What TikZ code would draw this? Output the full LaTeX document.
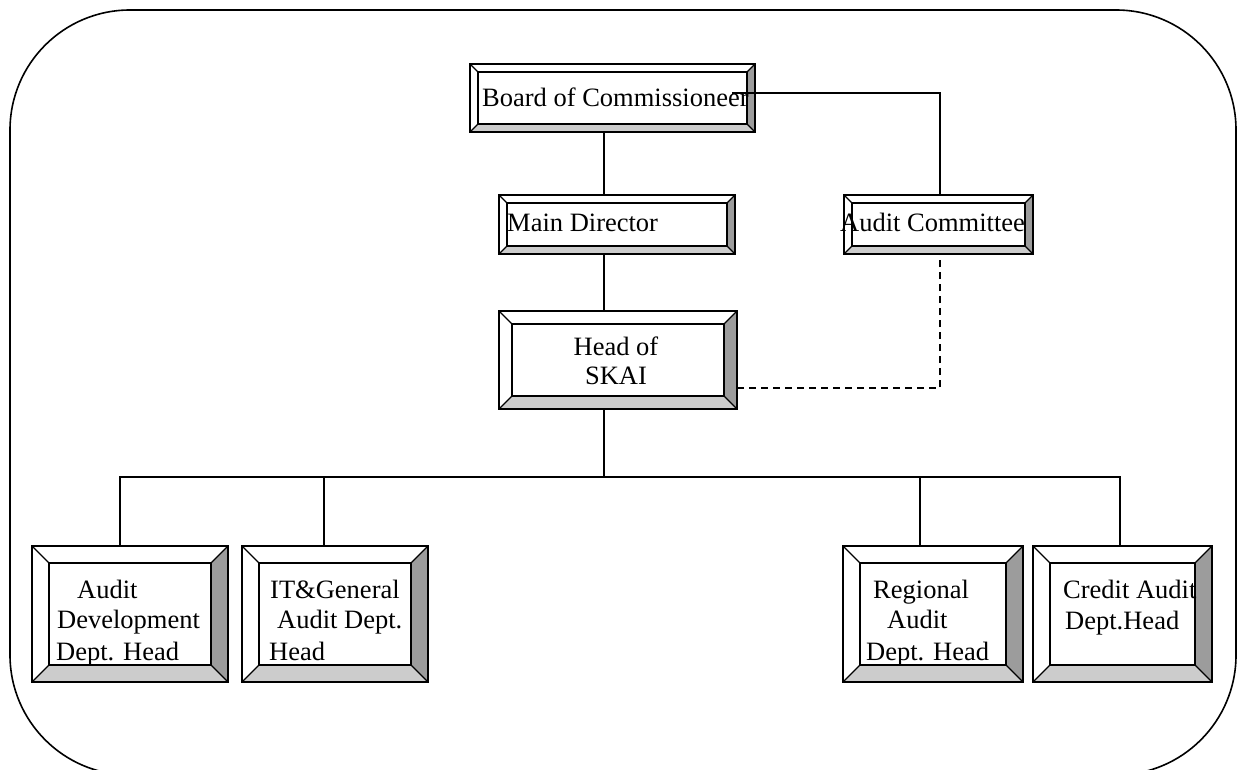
\documentclass[tikz,border=0pt]{standalone}
\usepackage{fontspec}
\setmainfont{Liberation Serif}
\usetikzlibrary{calc}

\definecolor{bevdark}{HTML}{9C9C9C}
\definecolor{bevlight}{HTML}{CCCCCC}

\tikzset{
  bbox/.style={rectangle, inner sep=0pt, outer sep=0pt},
  lbl/.style={inner sep=0pt, anchor=base west, font=\fontsize{26.5}{30}\selectfont},
  lblc/.style={inner sep=0pt, anchor=base, font=\fontsize{26.5}{30}\selectfont},
  conn/.style={line width=1.6pt, line cap=rect},
  dconn/.style={line width=1.6pt, dash pattern=on 7pt off 5pt},
}

% beveled frame drawn around a named node: #1 = node, #2 = bevel depth
\newcommand\bevelize[2]{%
  \coordinate (o1) at (#1.north west);
  \coordinate (o2) at (#1.north east);
  \coordinate (o3) at (#1.south east);
  \coordinate (o4) at (#1.south west);
  \coordinate (i1) at ($(o1)+(#2,#2)$);
  \coordinate (i2) at ($(o2)+(-#2,#2)$);
  \coordinate (i3) at ($(o3)+(-#2,-#2)$);
  \coordinate (i4) at ($(o4)+(#2,-#2)$);
  \fill[white] (o1) rectangle (o3);
  \fill[bevdark] (o2) -- (o3) -- (i3) -- (i2) -- cycle;
  \fill[bevlight] (o4) -- (o3) -- (i3) -- (i4) -- cycle;
  \draw[line width=1.3pt] (o1) -- (i1) (o2) -- (i2) (o3) -- (i3) (o4) -- (i4);
  \draw[line width=2pt] (i1) rectangle (i3);
  \draw[line width=2.6pt] (o1) rectangle (o3);
}

\begin{document}
\begin{tikzpicture}[x=1pt, y=-1pt]
  \useasboundingbox (0,0) rectangle (1238,770);
  \clip (0,0) rectangle (1238,770);

  % outer frame
  \draw[line width=1.6pt, rounded corners=120pt] (10,10) rectangle (1236,775);

  % boxes
  \node[bbox, minimum width=285, minimum height=68]  (board) at (612.5,98) {};
  \node[bbox, minimum width=236, minimum height=59]  (md)    at (617,224.5) {};
  \node[bbox, minimum width=189, minimum height=59]  (ac)    at (938.5,224.5) {};
  \node[bbox, minimum width=238, minimum height=98]  (skai)  at (618,360) {};
  \node[bbox, minimum width=196, minimum height=136] (dev)   at (130,614) {};
  \node[bbox, minimum width=186, minimum height=136] (itg)   at (335,614) {};
  \node[bbox, minimum width=180, minimum height=136] (reg)   at (933,614) {};
  \node[bbox, minimum width=179, minimum height=136] (cred)  at (1122.5,614) {};

  \bevelize{board}{8}
  \bevelize{md}{8}
  \bevelize{ac}{8}
  \bevelize{skai}{13}
  \bevelize{dev}{17}
  \bevelize{itg}{17}
  \bevelize{reg}{17}
  \bevelize{cred}{17}

  % labels
  \node[lbl] (tboard) at (482,107) {Board of Commissioneer};
  \node[lbl] (tmd) at (507,231) {Main Director};
  \node[lbl] (tac) at (840,231) {Audit Committee};
  \node[lblc] (tskai1) at (616,355) {Head of};
  \node[lblc] (tskai2) at (616,384) {SKAI};

  \node[lbl] (tdev1) at (77,598) {Audit};
  \node[lbl] (tdev2) at (57,628) {Development};
  \node[lbl] (tdev3) at (56,660) {Dept. Head};

  \node[lbl] (titg1) at (270,598) {IT\&General};
  \node[lbl] (titg2) at (277,628) {Audit Dept.};
  \node[lbl] (titg3) at (269,660) {Head};

  \node[lbl] (treg1) at (873,598) {Regional};
  \node[lbl] (treg2) at (887,628) {Audit};
  \node[lbl] (treg3) at (866,660) {Dept. Head};

  \node[lbl] (tcred1) at (1063,598) {Credit Audit};
  \node[lbl] (tcred2) at (1065,629) {Dept.Head};

  % connector guides
  \coordinate (spine) at (604,0);
  \coordinate (acx) at (940,0);
  \coordinate (tap) at (733,93);
  \coordinate (dl) at (0,388);
  \coordinate (d1) at (120,477);
  \coordinate (d2) at (324,477);
  \coordinate (d3) at (920,477);
  \coordinate (d4) at (1120,477);

  % solid reporting lines
  \draw[conn] (board.south -| spine) -- (md.north -| spine);
  \draw[conn] (md.south -| spine) -- (skai.north -| spine);
  \draw[conn] (skai.south -| spine) -- (d1 -| spine);
  \draw[conn] (d1) -- (d4);
  \draw[conn] (d1) -- (d1 |- dev.north);
  \draw[conn] (d2) -- (d2 |- itg.north);
  \draw[conn] (d3) -- (d3 |- reg.north);
  \draw[conn] (d4) -- (d4 |- cred.north);
  \draw[conn] (tap) -- (tap -| acx) -- (ac.north -| acx);

  % dotted-line link
  \draw[dconn] (skai.east |- dl) -- (acx |- dl) -- (ac.south -| acx);
\end{tikzpicture}
\end{document}
